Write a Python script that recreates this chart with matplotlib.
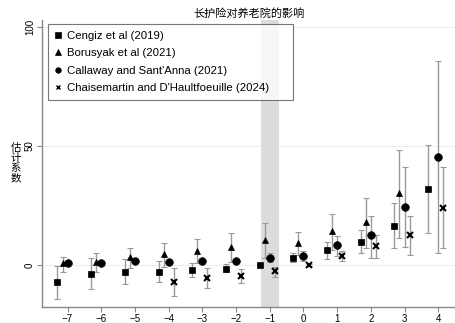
import numpy as np
import matplotlib.pyplot as plt
from matplotlib.lines import Line2D

plt.rcParams['font.family'] = ['Liberation Sans', 'Noto Sans CJK SC', 'DejaVu Sans']

# Event-time periods and estimates
periods = [-7, -6, -5, -4, -3, -2, -1, 0, 1, 2, 3, 4]

# Cengiz et al (2019)
cengizX = [-7, -6, -5, -4, -3, -2, -1, 0, 1, 2, 3, 4]
cengizEst = [-7.0, -3.8, -2.8, -2.8, -2.1, -1.5, 0.0, 3.1, 6.3, 9.8, 16.4, 31.9]
cengizLo = [-14.3, -10.2, -8.0, -7.0, -5.2, -3.0, 0.0, 1.4, 2.5, 4.9, 7.0, 13.3]
cengizHi = [-0.3, 2.8, 2.4, 1.7, 1.0, 0.3, 0.0, 4.9, 9.8, 14.7, 25.9, 50.4]

# Borusyak et al (2021)
borX = [-7, -6, -5, -4, -3, -2, -1, 0, 1, 2, 3]
borEst = [0.7, 1.4, 3.2, 4.5, 5.9, 7.7, 10.5, 9.1, 14.3, 18.0, 30.3]
borLo = [-2.8, -2.8, -1.4, -0.7, 0.7, 1.4, 3.0, 4.2, 6.5, 7.2, 11.5]
borHi = [3.5, 5.2, 7.3, 9.1, 10.9, 13.3, 17.8, 14.0, 21.4, 28.0, 48.4]

# Callaway and Sant'Anna (2021)
csX = [-7, -6, -5, -4, -3, -2, -1, 0, 1, 2, 3, 4]
csEst = [1.0, 1.0, 1.7, 1.1, 1.7, 1.8, 3.1, 3.7, 8.3, 12.6, 24.5, 45.3]
csLo = [0.3, 0.3, 1.0, 0.4, 1.0, 1.1, 1.4, 1.7, 3.9, 3.1, 7.7, 4.9]
csHi = [1.7, 1.7, 2.4, 1.8, 2.4, 2.5, 4.9, 5.9, 12.2, 20.6, 41.3, 85.7]

# Chaisemartin and D'Haultfoeuille (2024)
cdhX = [-4, -3, -2, -1, 0, 1, 2, 3, 4]
cdhEst = [-7.0, -5.3, -4.6, -2.5, 0.0, 3.8, 8.0, 12.6, 23.8]
cdhLo = [-13.0, -9.5, -7.4, -4.9, -0.3, 1.6, 3.1, 4.2, 7.0]
cdhHi = [-1.4, -1.4, -1.7, -0.7, 0.3, 5.9, 12.8, 20.6, 41.1]

seriesList = [
    ("Cengiz et al (2019)", cengizX, cengizEst, cengizLo, cengizHi, "s", -0.3, 5),
    ("Borusyak et al (2021)", borX, borEst, borLo, borHi, "^", -0.15, 5),
    ("Callaway and Sant'Anna (2021)", csX, csEst, csLo, csHi, "o", 0.0, 5.5),
    ("Chaisemartin and D'Haultfoeuille (2024)", cdhX, cdhEst, cdhLo, cdhHi, "x", 0.15, 4),
]

fig = plt.figure(figsize=(4.56, 3.23), dpi=100)
ax = fig.add_axes([0.092, 0.0495, 0.906, 0.889])

gridCol = "#e8f0f0"
for yv in [0, 50, 100]:
    ax.axhline(yv, color=gridCol, linewidth=0.8, zorder=0)

# reference period band
ax.axvspan(-1.25, -0.72, color="#dcdcdc", zorder=0.5, linewidth=0)

handles = []
for name, xs, est, lo, hi, mk, off, ms in seriesList:
    xs = np.array(xs) + off
    est = np.array(est)
    err = [est - np.array(lo), np.array(hi) - est]
    ax.errorbar(xs, est, yerr=err, fmt="none", ecolor="#9a9a9a",
                elinewidth=1.0, capsize=2.3, capthick=0.8, zorder=2)
    ax.plot(xs, est, linestyle="none", marker=mk, color="black",
            markersize=ms, markeredgewidth=1.5 if mk == "x" else 0.5, zorder=3)
    handles.append(Line2D([], [], linestyle="none", marker=mk, color="black",
                          markersize=4 if mk != "x" else 3.5,
                          markeredgewidth=1 if mk == "x" else 0.5))

ax.set_xlim(-7.76, 4.5)
ax.set_ylim(-17.6, 103)
ax.set_xticks(periods)
ax.set_yticks([0, 50, 100])
ax.tick_params(axis="both", colors="#888888", labelcolor="black", labelsize=7,
               length=3.5, width=0.8, pad=1.5)
for lab in ax.get_yticklabels():
    lab.set_rotation(90)
    lab.set_va("center")

for side in ["top", "right"]:
    ax.spines[side].set_visible(False)
for side in ["left", "bottom"]:
    ax.spines[side].set_color("#888888")
    ax.spines[side].set_linewidth(1.0)

ax.set_title("长护险对养老院的影响", fontsize=8, pad=2,
             family=["Noto Sans CJK SC", "DejaVu Sans"])
fig.text(0.035, 0.495, "估\n计\n系\n数", fontsize=7.5, ha="center", va="center",
         linespacing=1.05, family=["Noto Sans CJK SC", "DejaVu Sans"])

leg = ax.legend(handles, [s[0] for s in seriesList], loc="upper left",
                bbox_to_anchor=(0.0145, 0.986, 0.593, 0.0), mode="expand",
                fontsize=8.2, frameon=True, fancybox=False, edgecolor="#555555",
                handlelength=0.6, handletextpad=0.45, borderpad=0.6,
                labelspacing=0.66, borderaxespad=0)
leg.get_frame().set_linewidth(0.8)

fig.savefig("out.png", dpi=100)
